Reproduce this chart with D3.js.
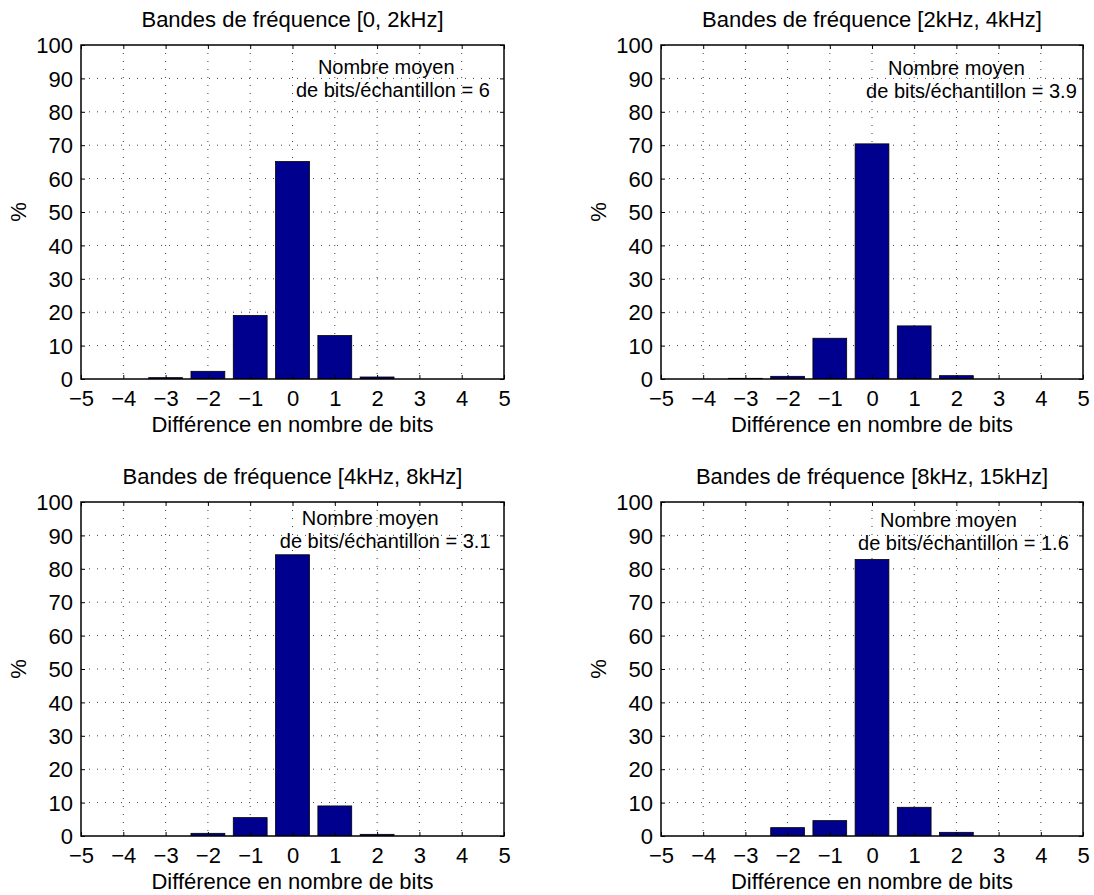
<!DOCTYPE html>
<html><head><meta charset="utf-8">
<script src="https://cdn.jsdelivr.net/npm/d3@7"></script>
<style>
body{margin:0;background:#fff}
text{font-family:"Liberation Sans",Arial,Helvetica,sans-serif;fill:#000}
</style>
</head><body>
<svg id="c" width="1094" height="895"></svg>
<script>
// ---- data ----
const categories = [-5, -4, -3, -2, -1, 0, 1, 2, 3, 4, 5];
const band1 = [0, 0, 0.4, 2.3, 19.0, 65.1, 13.0, 0.6, 0, 0, 0];
const band2 = [0, 0, 0.2, 0.8, 12.2, 70.4, 15.9, 1.0, 0, 0, 0];
const band3 = [0, 0, 0, 0.8, 5.5, 84.2, 9.0, 0.5, 0, 0, 0];
const band4 = [0, 0, 0, 2.5, 4.6, 82.8, 8.6, 1.1, 0, 0, 0];
const titles = [
  "Bandes de fréquence [0, 2kHz]",
  "Bandes de fréquence [2kHz, 4kHz]",
  "Bandes de fréquence [4kHz, 8kHz]",
  "Bandes de fréquence [8kHz, 15kHz]"
];
const meanBits = ["6", "3.9", "3.1", "1.6"];
const xTicks = [-5, -4, -3, -2, -1, 0, 1, 2, 3, 4, 5];
const yTicks = [0, 10, 20, 30, 40, 50, 60, 70, 80, 90, 100];
const xLabel = "Différence en nombre de bits";
const yLabel = "%";
const annotLine1 = "Nombre moyen";
const annotLine2 = "de bits/échantillon = ";
// annotation anchor (data coords: left x, baseline y of first line)
const annotX = [0.08, -0.14, -0.30, -0.33];
const annotY = [91.2, 91.0, 93.0, 92.6];

const series = [band1, band2, band3, band4];

// ---- layout ----
const colX = [81, 661], colW = [423, 422];
const rowY = [45, 502], rowH = 334;
const svg = d3.select("#c");
const fmt = v => (v < 0 ? "\u2212" + Math.abs(v) : String(v));
const barColor = "#00008f";

series.forEach((vals, i) => {
  const col = i % 2, row = Math.floor(i / 2);
  const W = colW[col], H = rowH;
  const g = svg.append("g").attr("transform", `translate(${colX[col]},${rowY[row]})`);
  const x = d3.scaleLinear().domain([-5, 5]).range([0, W]);
  const y = d3.scaleLinear().domain([0, 100]).range([H, 0]);

  const clipId = "clip" + i;
  g.append("clipPath").attr("id", clipId).append("rect").attr("width", W).attr("height", H);

  // grid
  const grid = g.append("g").attr("stroke", "#000").attr("stroke-width", 1)
    .attr("stroke-dasharray", "1,7").attr("opacity", 0.75);
  xTicks.slice(1, -1).forEach(t => {
    grid.append("line").attr("x1", x(t)).attr("x2", x(t)).attr("y1", 0).attr("y2", H);
  });
  yTicks.slice(1, -1).forEach(t => {
    grid.append("line").attr("x1", 0).attr("x2", W).attr("y1", y(t)).attr("y2", y(t));
  });

  // bars
  const bw = 0.8;
  g.append("g").attr("clip-path", `url(#${clipId})`)
    .selectAll("rect").data(categories.map((c, k) => ({ c, v: vals[k] })).filter(d => d.v > 0))
    .join("rect")
    .attr("x", d => x(d.c - bw / 2))
    .attr("width", d => x(d.c + bw / 2) - x(d.c - bw / 2))
    .attr("y", d => y(d.v))
    .attr("height", d => y(0) - y(d.v))
    .attr("fill", barColor)
    .attr("stroke", "#000")
    .attr("stroke-width", 0.8);

  // axes with inward ticks
  const tl = 4;
  const axB = d3.axisBottom(x).tickValues(xTicks).tickFormat(fmt).tickSize(-tl).tickPadding(10);
  const axT = d3.axisTop(x).tickValues(xTicks).tickFormat("").tickSize(-tl);
  const axL = d3.axisLeft(y).tickValues(yTicks).tickFormat(fmt).tickSize(-tl).tickPadding(8);
  const axR = d3.axisRight(y).tickValues(yTicks).tickFormat("").tickSize(-tl);

  const styleAxis = sel => {
    sel.select(".domain").remove();
    sel.selectAll("line").attr("stroke", "#000").attr("stroke-width", 1);
    sel.selectAll("text").attr("font-size", 22).attr("fill", "#000")
      .attr("font-family", '"Liberation Sans",Arial,sans-serif');
  };
  g.append("g").attr("transform", `translate(0,${H})`).call(axB).call(styleAxis)
    .selectAll("text").attr("dy", "0.71em").attr("y", 11);
  g.append("g").call(axT).call(styleAxis);
  g.append("g").call(axL).call(styleAxis).selectAll("text").attr("dy", "0.35em");
  g.append("g").attr("transform", `translate(${W},0)`).call(axR).call(styleAxis);

  // box
  g.append("rect").attr("width", W).attr("height", H).attr("fill", "none")
    .attr("stroke", "#000").attr("stroke-width", 1.5);

  // title
  g.append("text").attr("x", W / 2).attr("y", -18).attr("text-anchor", "middle")
    .attr("font-size", 22).text(titles[i]);
  // x label
  g.append("text").attr("x", W / 2).attr("y", H + 53).attr("text-anchor", "middle")
    .attr("font-size", 22).text(xLabel);
  // y label
  g.append("text").attr("transform", `translate(-55,${H / 2}) rotate(-90)`)
    .attr("text-anchor", "middle").attr("font-size", 22).text(yLabel);

  // annotation
  const ax0 = x(annotX[i]), ay0 = y(annotY[i]);
  g.append("text").attr("x", ax0 + 22).attr("y", ay0).attr("font-size", 20).text(annotLine1);
  g.append("text").attr("x", ax0).attr("y", ay0 + 23).attr("font-size", 20).text(annotLine2 + meanBits[i]);
});
</script>
</body></html>
